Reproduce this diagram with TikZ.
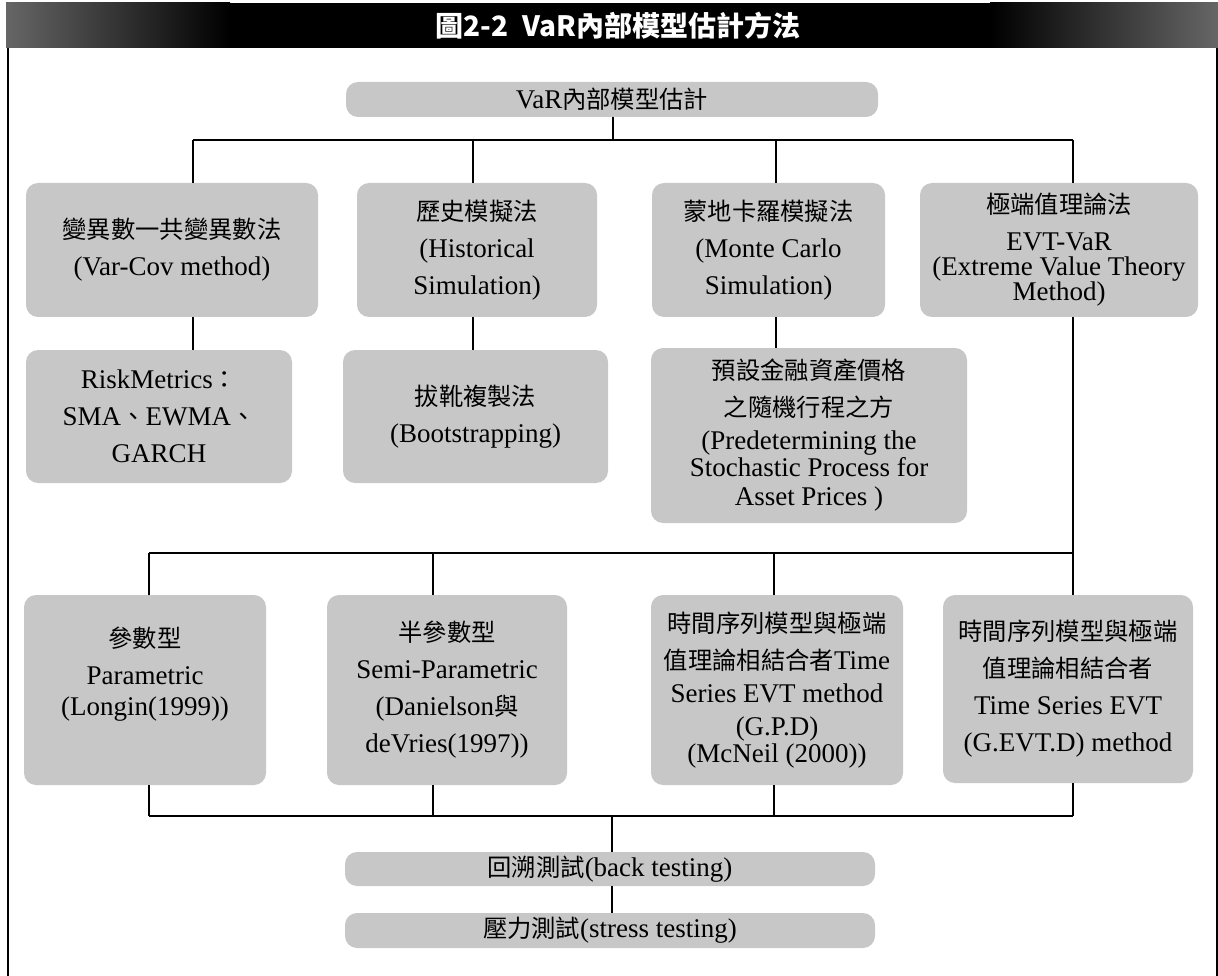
\documentclass[tikz,border=0pt]{standalone}
\usepackage{fontspec}
\setmainfont{Liberation Serif}
\newfontfamily\cjk{Noto Sans CJK TC}[Scale=0.9]
\newfontfamily\cjktitle{Noto Sans CJK TC}
\newcommand\C[1]{{\cjk #1}}
\definecolor{boxgray}{gray}{0.78}
\begin{document}
\begin{tikzpicture}[x=1pt,y=1pt,
  box/.style={fill=boxgray, rounded corners=12pt, align=center, inner sep=0pt,
    font=\fontsize{27}{37}\selectfont},
  link/.style={draw=black, line width=1.3pt},
  frameline/.style={draw=black, line width=1.6pt},
  titletext/.style={text=white, font=\cjktitle\bfseries\fontsize{28}{32}\selectfont, inner sep=0pt}]
\useasboundingbox (0,0) rectangle (1218,-976);
% title bar
\fill[black] (6,-3) rectangle (1218,-48);
\shade[left color=black!60, right color=black] (6,-3) rectangle (230,-48);
\shade[left color=black, right color=black!60] (990,-3) rectangle (1218,-48);
\node[titletext] (ttl) at (618,-26) {圖2-2\hspace{14pt}VaR內部模型估計方法};
% frame
\draw[frameline] (8,-48) -- (8,-976);
\draw[frameline] (1217,-48) -- (1217,-976);
% nodes
\node[box, minimum width=532pt, minimum height=35pt] (top) at (612,-99.5) {VaR\C{內部模型估計}};
\node[box, minimum width=292pt, minimum height=134pt] (b1) at (172,-250) {\C{變異數一共變異數法}\\(Var-Cov method)};
\node[box, minimum width=240pt, minimum height=134pt] (b2) at (477,-250) {\C{歷史模擬法}\\(Historical\\Simulation)};
\node[box, minimum width=233pt, minimum height=134pt] (b3) at (768.5,-250) {\C{蒙地卡羅模擬法}\\(Monte Carlo\\Simulation)};
\node[box, minimum width=278pt, minimum height=134pt] (b4) at (1059,-250) {\C{極端值理論法}\\EVT-VaR\\[-12pt](Extreme Value Theory\\[-12pt]Method)};
\node[box, minimum width=266pt, minimum height=133pt] (b5) at (159,-416.5) {RiskMetrics\C{：}\\SMA\C{、}EWMA\C{、}\\GARCH};
\node[box, minimum width=265pt, minimum height=133pt] (b6) at (475.5,-416.5) {\C{拔靴複製法}\\(Bootstrapping)};
\node[box, minimum width=316pt, minimum height=175pt] (b7) at (809,-435.5) {\C{預設金融資產價格}\\\C{之隨機行程之方}\\[-4pt](Predetermining the\\[-10pt]Stochastic Process for\\[-8pt]Asset Prices )};
\node[box, minimum width=242pt, minimum height=190pt] (b8) at (145,-690) {\C{參數型}\\Parametric\\[-6pt](Longin(1999))\\ };
\node[box, minimum width=240pt, minimum height=190pt] (b9) at (447,-690) {\C{半參數型}\\Semi-Parametric\\(Danielson\C{與}\\deVries(1997))};
\node[box, minimum width=252pt, minimum height=190pt] (b10) at (777,-690) {\C{時間序列模型與極端}\\\C{值理論相結合者}Time\\[-4pt]Series EVT method\\[-4pt](G.P.D)\\[-10pt](McNeil (2000))};
\node[box, minimum width=250pt, minimum height=188pt] (b11) at (1068,-689) {\C{時間序列模型與極端}\\\C{值理論相結合者}\\Time Series EVT\\(G.EVT.D) method};
\node[box, minimum width=530pt, minimum height=34pt] (b12) at (610,-869) {\C{回溯測試}(back testing)};
\node[box, minimum width=530pt, minimum height=35pt] (b13) at (610,-930.5) {\C{壓力測試}(stress testing)};
% bus coordinates
\coordinate (busAL) at (193,-140);
\coordinate (busAR) at (1073,-140);
\coordinate (xa2) at (473,-140);
\coordinate (xa3) at (776,-140);
\coordinate (busBL) at (149,-553);
\coordinate (busBR) at (1073,-553);
\coordinate (xb2) at (433,-553);
\coordinate (xb3) at (774,-553);
\coordinate (busCL) at (149,-816);
\coordinate (busCR) at (1073,-816);
\coordinate (xc) at (612,-816);
% connectors top level
\draw[link] (top.south -| 613,0) -- (busAL -| 613,0);
\draw[link] (busAL) -- (busAR);
\draw[link] (busAL) -- (busAL |- b1.north);
\draw[link] (xa2) -- (xa2 |- b2.north);
\draw[link] (xa3) -- (xa3 |- b3.north);
\draw[link] (busAR) -- (busAR |- b4.north);
% second level
\draw[link] (b1.south -| busAL) -- (b5.north -| busAL);
\draw[link] (b2.south -| xa2) -- (b6.north -| xa2);
\draw[link] (b3.south -| xa3) -- (b7.north -| xa3);
\draw[link] (b4.south -| busAR) -- (b11.north -| busAR);
% third level bus
\draw[link] (busBL) -- (busBR);
\draw[link] (busBL) -- (busBL |- b8.north);
\draw[link] (xb2) -- (xb2 |- b9.north);
\draw[link] (xb3) -- (xb3 |- b10.north);
% bottom bus
\draw[link] (b8.south -| busCL) -- (busCL);
\draw[link] (b9.south -| xb2) -- (xb2 |- busCL);
\draw[link] (b10.south -| xb3) -- (xb3 |- busCL);
\draw[link] (b11.south -| busCR) -- (busCR);
\draw[link] (busCL) -- (busCR);
\draw[link] (xc) -- (b12.north -| xc);
\draw[link] (b12.south -| xc) -- (b13.north -| xc);
\end{tikzpicture}
\end{document}
